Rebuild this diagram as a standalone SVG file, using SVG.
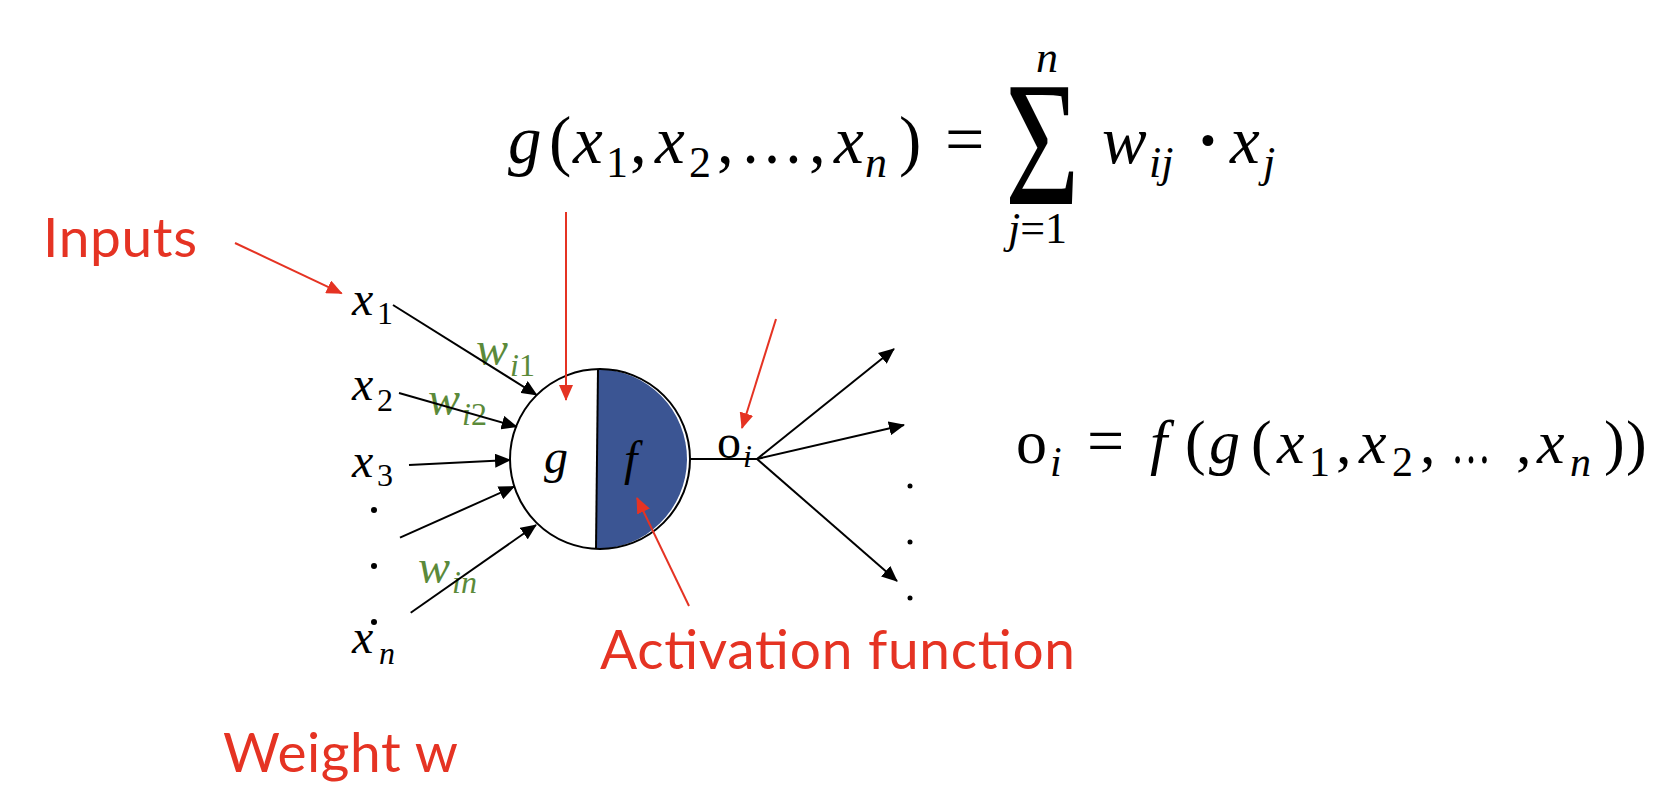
<svg xmlns="http://www.w3.org/2000/svg" width="1663" height="796" viewBox="0 0 1663 796">
<style>
.m{font-family:"Liberation Serif","Times New Roman",serif;font-style:italic;fill:#000}
.u{font-family:"Liberation Serif","Times New Roman",serif;font-style:normal;fill:#000}
.big{font-size:67px}
.sb{font-size:44px}
.nd{font-size:48px}
.ns{font-size:32px}
.f2{font-size:62px}
.f2s{font-size:42px}
.g{fill:#5B8A3A}
.red{font-family:Lato,"Open Sans","Liberation Sans",sans-serif;font-size:55px;fill:#E53323}
.bl{stroke:#000;stroke-width:2;fill:none}
.rl{stroke:#E53323;stroke-width:2;fill:none}
</style>
<defs>
<marker id="ab" markerUnits="userSpaceOnUse" markerWidth="16" markerHeight="14" refX="15" refY="7" orient="auto">
<path d="M0,0 L16,7 L0,14 z" fill="#000"/>
</marker>
<marker id="ar" markerUnits="userSpaceOnUse" markerWidth="16" markerHeight="14" refX="15" refY="7" orient="auto">
<path d="M0,0 L16,7 L0,14 z" fill="#E53323"/>
</marker>
</defs>

<g id="formula-g">
<text class="m big" x="508" y="163">g</text>
<text class="u big" x="549" y="163">(</text>
<text class="m big" x="573" y="163">x</text>
<text class="u sb" x="606" y="177">1</text>
<text class="u big" x="630" y="163">,</text>
<text class="m big" x="655" y="163">x</text>
<text class="u sb" x="689" y="177">2</text>
<text class="u big" x="717" y="163">,</text>
<text class="u big" x="740" y="163" textLength="64" lengthAdjust="spacingAndGlyphs">…</text>
<text class="u big" x="809" y="163">,</text>
<text class="m big" x="834" y="163">x</text>
<text class="m sb" x="865" y="177">n</text>
<text class="u big" x="899" y="163">)</text>
<text class="u" x="945" y="163" font-size="70">=</text>
<text class="u" transform="translate(1005,204) scale(0.72,1)" x="0" y="0" font-size="178">Σ</text>
<text class="m sb" x="1036" y="72">n</text>
<text class="m sb" x="1008" y="243">j<tspan class="u">=1</tspan></text>
<text class="m big" x="1102" y="163">w</text>
<text class="m sb" x="1149" y="177">ij</text>
<text class="u big" x="1208" y="163" text-anchor="middle" font-weight="bold">·</text>
<text class="m big" x="1230" y="163">x</text>
<text class="m sb" x="1263" y="177">j</text>
</g>

<g id="formula-o">
<text class="u f2" x="1016" y="463">o</text>
<text class="m f2s" x="1050" y="476">i</text>
<text class="u" x="1087" y="463" font-size="66">=</text>
<text class="m f2" x="1150" y="463">f</text>
<text class="u f2" x="1185" y="463">(</text>
<text class="m f2" x="1209" y="463">g</text>
<text class="u f2" x="1251" y="463">(</text>
<text class="m f2" x="1277" y="463">x</text>
<text class="u f2s" x="1309" y="476">1</text>
<text class="u f2" x="1336" y="463">,</text>
<text class="m f2" x="1359" y="463">x</text>
<text class="u f2s" x="1392" y="476">2</text>
<text class="u f2" x="1420" y="463">,</text>
<text class="u f2" x="1451" y="463" textLength="40" lengthAdjust="spacingAndGlyphs">…</text>
<text class="u f2" x="1516" y="463">,</text>
<text class="m f2" x="1537" y="463">x</text>
<text class="m f2s" x="1570" y="476">n</text>
<text class="u f2" x="1604" y="463">)</text>
<text class="u f2" x="1626" y="463">)</text>
</g>

<g id="neuron">
<circle cx="600" cy="459" r="90" fill="#fff"/>
<path d="M598,369 A90,90 0 0 1 596,549 Z" fill="#3B5593"/>
<circle cx="600" cy="459" r="90" class="bl"/>
<line x1="598" y1="369" x2="596" y2="549" class="bl"/>
<text class="m nd" x="544" y="473">g</text>
<text class="m nd" x="624" y="475">f</text>
</g>

<g id="inputs">
<text class="m nd" x="352" y="315">x</text><text class="u ns" x="377" y="324">1</text>
<text class="m nd" x="352" y="400">x</text><text class="u ns" x="377" y="411">2</text>
<text class="m nd" x="352" y="477">x</text><text class="u ns" x="377" y="486">3</text>
<circle cx="374" cy="510" r="3" fill="#000"/>
<circle cx="374" cy="566" r="3" fill="#000"/>
<circle cx="374" cy="622" r="3" fill="#000"/>
<text class="m nd" x="352" y="653">x</text><text class="m ns" x="379" y="664">n</text>
</g>

<g id="weights">
<text class="m nd g" x="476" y="365">w</text><text class="m ns g" x="510" y="376">i<tspan class="u g">1</tspan></text>
<text class="m nd g" x="428" y="415">w</text><text class="m ns g" x="462" y="425">i<tspan class="u g">2</tspan></text>
<text class="m nd g" x="418" y="583">w</text><text class="m ns g" x="452" y="593">in</text>
</g>

<g id="output">
<text class="u nd" x="717" y="458">o</text><text class="m ns" x="743" y="467">i</text>
<circle cx="910" cy="486" r="2.5" fill="#000"/>
<circle cx="910" cy="542" r="2.5" fill="#000"/>
<circle cx="910" cy="598" r="2.5" fill="#000"/>
</g>

<g id="labels">
<text class="red" x="43" y="257" textLength="154" lengthAdjust="spacing">Inputs</text>
<text class="red" x="600" y="669" textLength="475" lengthAdjust="spacing">Activation function</text>
<text class="red" x="223" y="772" textLength="235" lengthAdjust="spacing">Weight w</text>
</g>

<g id="connectors">
<line x1="393" y1="305" x2="536.7" y2="395" class="bl" marker-end="url(#ab)"/>
<line x1="399" y1="393" x2="516.7" y2="426.7" class="bl" marker-end="url(#ab)"/>
<line x1="409" y1="465" x2="510" y2="460" class="bl" marker-end="url(#ab)"/>
<line x1="400" y1="537.7" x2="514" y2="486.7" class="bl" marker-end="url(#ab)"/>
<line x1="410.7" y1="612.7" x2="536" y2="525" class="bl" marker-end="url(#ab)"/>
<line x1="690" y1="459" x2="757" y2="459" class="bl"/>
<line x1="757" y1="459" x2="894" y2="349" class="bl" marker-end="url(#ab)"/>
<line x1="757" y1="459" x2="904" y2="425" class="bl" marker-end="url(#ab)"/>
<line x1="757" y1="459" x2="897" y2="581" class="bl" marker-end="url(#ab)"/>
<line x1="235" y1="243" x2="341.7" y2="293.3" class="rl" marker-end="url(#ar)"/>
<line x1="566" y1="212" x2="566" y2="400" class="rl" marker-end="url(#ar)"/>
<line x1="776" y1="319" x2="742" y2="428" class="rl" marker-end="url(#ar)"/>
<line x1="689" y1="606" x2="637" y2="498" class="rl" marker-end="url(#ar)"/>
</g>
</svg>
